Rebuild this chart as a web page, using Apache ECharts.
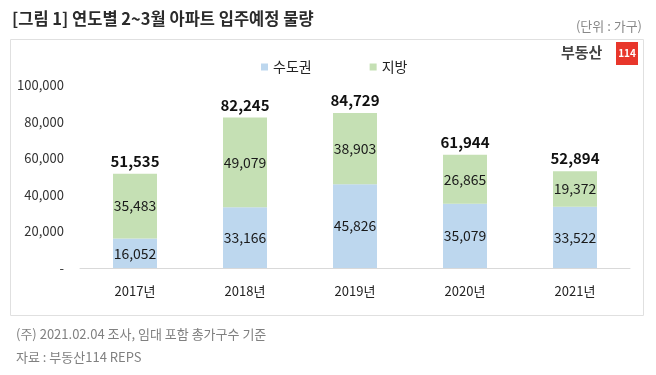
<!DOCTYPE html>
<html>
<head>
<meta charset="utf-8">
<script src="https://cdn.jsdelivr.net/npm/echarts@6/dist/echarts.min.js"></script>
<style>
  html, body { margin: 0; padding: 0; background: #fff; }
  #chart { width: 656px; height: 375px; }
</style>
</head>
<body>
<div id="chart"></div>
<script>
var years = ['2017년', '2018년', '2019년', '2020년', '2021년']
var capital = [16052, 33166, 45826, 35079, 33522]
var local = [35483, 49079, 38903, 26865, 19372]
var totals = [51535, 82245, 84729, 61944, 52894]

var font = '"Noto Sans CJK KR", "Noto Sans", sans-serif'

function comma(v) {
    return String(v).replace(/\B(?=(\d{3})+(?!\d))/g, ',')
}

var myChart = echarts.init(document.getElementById('chart'))

var option = {
    animation: false,
    textStyle: { fontFamily: font },
    legend: {
        data: ['수도권', '지방'],
        top: 55,
        left: 256,
        itemWidth: 7,
        itemHeight: 7,
        itemGap: 58,
        icon: 'rect',
        textStyle: { fontSize: 14, color: '#222', fontFamily: font }
    },
    grid: {
        left: 80,
        right: 26,
        top: 85,
        bottom: 107
    },
    xAxis: {
        type: 'category',
        data: years,
        axisLine: { lineStyle: { color: '#d9d9d9' } },
        axisTick: { show: false },
        axisLabel: { color: '#222', fontSize: 13, margin: 17, fontFamily: font }
    },
    yAxis: {
        type: 'value',
        min: 0,
        max: 100000,
        interval: 20000,
        splitLine: { show: false },
        axisLine: { show: false },
        axisTick: { show: false },
        axisLabel: {
            color: '#333',
            fontSize: 13,
            margin: 16,
            fontFamily: font,
            formatter: function (v) { return v === 0 ? '-' : comma(v) }
        }
    },
    series: [
        {
            name: '수도권',
            type: 'bar',
            stack: 'a',
            barWidth: 44,
            data: capital,
            itemStyle: { color: '#bdd7ee' },
            label: {
                show: true,
                position: 'inside',
                color: '#1a1a1a',
                fontSize: 14,
                fontFamily: font,
                formatter: function (p) { return comma(p.value) }
            }
        },
        {
            name: '지방',
            type: 'bar',
            stack: 'a',
            barWidth: 44,
            data: local,
            itemStyle: { color: '#c5e0b4' },
            label: {
                show: true,
                position: 'inside',
                color: '#1a1a1a',
                fontSize: 14,
                fontFamily: font,
                formatter: function (p) { return comma(p.value) }
            }
        },
        {
            name: '합계',
            type: 'bar',
            barWidth: 44,
            barGap: '-100%',
            data: totals,
            z: 1,
            silent: true,
            itemStyle: { color: 'rgba(0,0,0,0)' },
            label: {
                show: true,
                position: 'top',
                distance: 5,
                color: '#111',
                fontSize: 15,
                fontWeight: 'bold',
                fontFamily: font,
                formatter: function (p) { return comma(p.value) }
            }
        }
    ],
    graphic: [
        {
            type: 'rect',
            shape: { x: 10.5, y: 39.5, width: 633, height: 276 },
            style: { fill: 'none', stroke: '#e0e0e0', lineWidth: 1 },
            z: -1
        },
        {
            type: 'text',
            left: 12,
            top: 10,
            style: { text: '[그림 1] 연도별 2~3월 아파트 입주예정 물량', fontSize: 16.5, fontWeight: 'bold', fill: '#2b2b2b', fontFamily: font }
        },
        {
            type: 'text',
            right: 14,
            top: 20,
            style: { text: '(단위 : 가구)', fontSize: 13, fill: '#888', fontFamily: font }
        },
        {
            type: 'text',
            left: 561,
            top: 45,
            style: { text: '부동산', fontSize: 15, fontWeight: 'bold', fill: '#444', fontFamily: font }
        },
        {
            type: 'rect',
            shape: { x: 616, y: 42, width: 22, height: 23 },
            style: { fill: '#e8362b' }
        },
        {
            type: 'text',
            x: 627,
            y: 53.5,
            style: { text: '114', fontSize: 10, fontWeight: 'bold', fill: '#fff', fontFamily: font, align: 'center', verticalAlign: 'middle' }
        },
        {
            type: 'text',
            left: 16,
            top: 328,
            style: { text: '(주) 2021.02.04 조사, 임대 포함 총가구수 기준', fontSize: 13, fill: '#808080', fontFamily: font }
        },
        {
            type: 'text',
            left: 16,
            top: 351,
            style: { text: '자료 : 부동산114 REPS', fontSize: 13, fill: '#808080', fontFamily: font }
        }
    ]
}

myChart.setOption(option)
</script>
</body>
</html>
